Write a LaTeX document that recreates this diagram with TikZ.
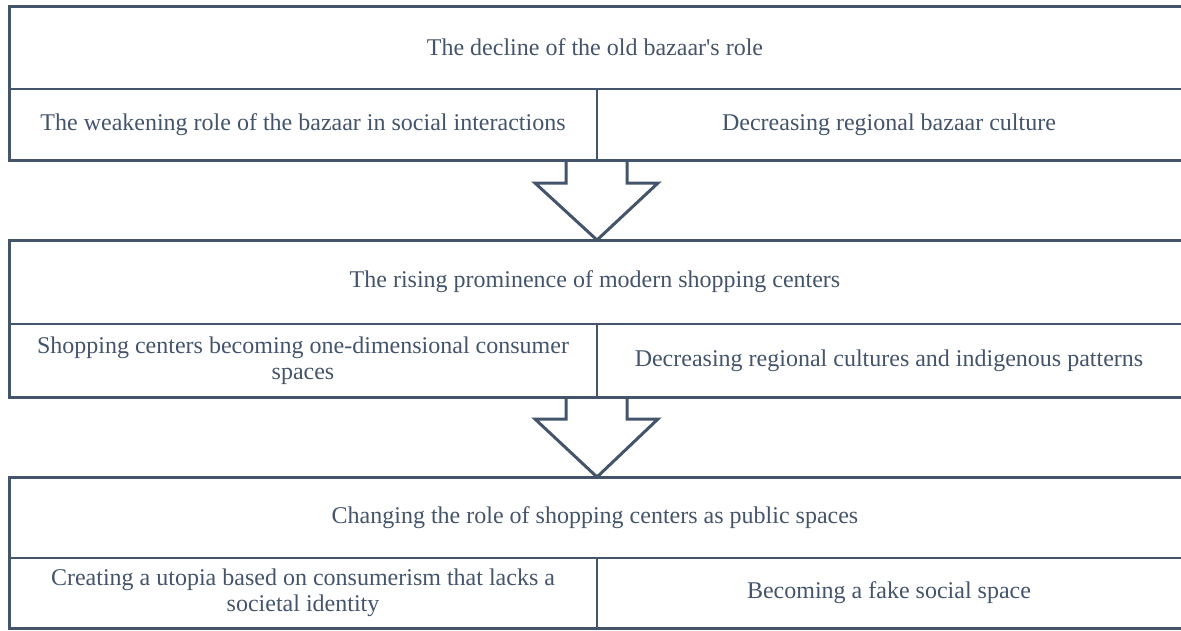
\documentclass[tikz,border=0pt]{standalone}
\usepackage{fontspec}
\setmainfont{Liberation Serif}
\definecolor{slate}{HTML}{44546A}
\tikzset{cell/.style={font=\fontsize{24}{26}\selectfont, text=slate, align=center}}
\tikzset{outer/.style={slate, line width=3pt, line join=miter}}
\tikzset{inner/.style={slate, line width=2pt}}
\tikzset{arr/.style={slate, line width=3pt, line join=miter}}

\begin{document}
\begin{tikzpicture}[x=1pt,y=-1pt]
        \useasboundingbox (0,0) rectangle (1181,630);
        % first table
        \draw[inner] (9,89) -- (1181,89);
        \draw[inner] (597,89) -- (597,160);
        \draw[outer] (1181,6) -- (9,6) -- (9,160) -- (1181,160);
        % second table
        \draw[inner] (9,324) -- (1181,324);
        \draw[inner] (597,324) -- (597,397);
        \draw[outer] (1181,240) -- (9,240) -- (9,397) -- (1181,397);
        % third table
        \draw[inner] (9,558) -- (1181,558);
        \draw[inner] (597,558) -- (597,628);
        \draw[outer] (1181,477) -- (9,477) -- (9,628) -- (1181,628);
        % block arrows
        \draw[arr] (566,160) -- (566,183) -- (535,183) -- (597,240)
          -- (658,183) -- (627,183) -- (627,160);
        \draw[arr] (566,397) -- (566,419) -- (535,419) -- (597,477)
          -- (658,419) -- (627,419) -- (627,397);
        \begin{scope}[every node/.style={cell}]
          \node (decline) at (595,47) {The decline of the old bazaar\textquotesingle s role};
          \node (weak) at (303,124.5) {The weakening role of the bazaar in social interactions};
          \node (regbaz) at (889,124.5) {Decreasing regional bazaar culture};
          \node (rising) at (595,282) {The rising prominence of modern shopping centers};
          \node (onedim) at (303,360.5) {Shopping centers becoming one-dimensional consumer\\spaces};
          \node (regcult) at (889,360.5) {Decreasing regional cultures and indigenous patterns};
          \node (public) at (595,517.5) {Changing the role of shopping centers as public spaces};
          \node (utopia) at (303,593) {Creating a utopia based on consumerism that lacks a\\societal identity};
          \node (fake) at (889,593) {Becoming a fake social space};
        \end{scope}
      \end{tikzpicture}
\end{document}
